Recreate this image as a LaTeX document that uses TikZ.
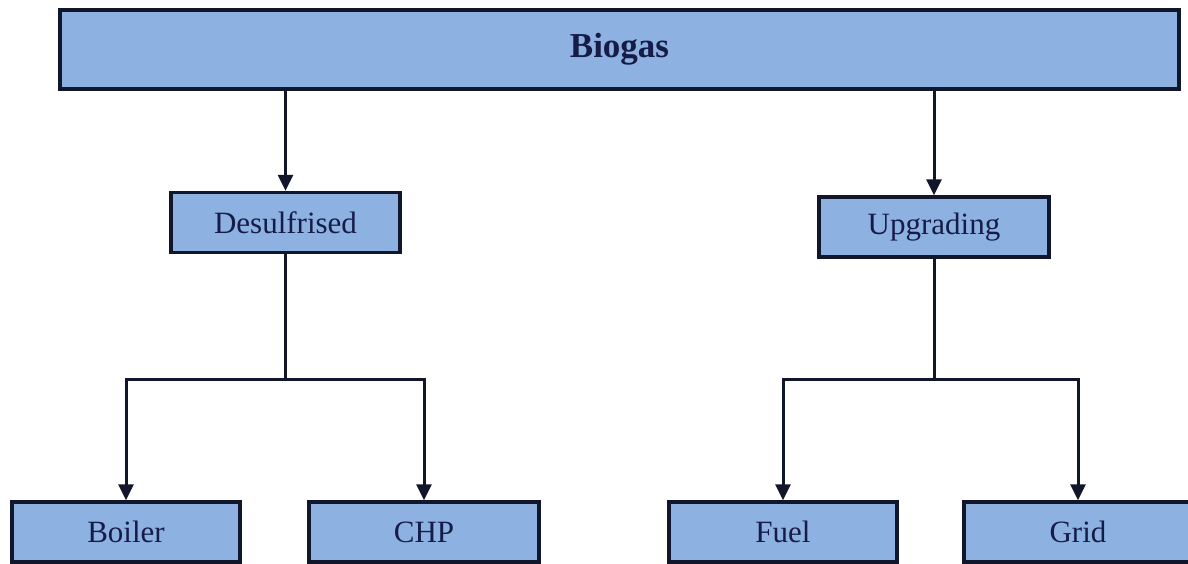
\documentclass[tikz,border=0pt]{standalone}
\usepackage{fontspec}
\setmainfont{Liberation Serif}
\usepackage{tikz}
\usetikzlibrary{positioning, arrows.meta}
\definecolor{boxblue}{RGB}{141,177,225}
\definecolor{boxline}{RGB}{18,22,42}
\definecolor{boxtext}{RGB}{22,28,72}
\newcommand\BoxFont{\fontsize{31}{35}\selectfont}

\begin{document}
\begin{tikzpicture}[x=1pt, y=-1pt,
        stage/.style = {draw = boxline, line width = 3.4pt, fill = boxblue, text = boxtext,
                        minimum height = 60pt, inner sep = 0pt, font = \BoxFont},
        link/.style = {draw = boxline, line width = 3pt},
        feed/.style = {link, -{Triangle[width = 15pt, length = 16pt]}}]
                \useasboundingbox (0,0) rectangle (1188,563);

                \node [stage, minimum width = 1119pt, minimum height = 79pt,
                       font = \fontsize{35}{40}\selectfont\bfseries] at (619.5,49.5) (biogas) {Biogas};

                \node [stage, minimum width = 229pt] at (285.5,222.5) (desulf) {Desulfrised};
                \node [stage, minimum width = 230pt] at (934,227) (upgrade) {Upgrading};

                \node [stage, minimum width = 228pt] at (126,532) (boiler) {Boiler};
                \node [stage, minimum width = 230pt] at (424,532) (chp) {CHP};
                \node [stage, minimum width = 228pt] at (783,532) (fuel) {Fuel};
                \node [stage, minimum width = 228pt] at (1078,532) (grid) {Grid};

                \draw [feed] (biogas.south -| desulf.north) -- (desulf);
                \draw [feed] (biogas.south -| upgrade.north) -- (upgrade);

                \path (desulf.south) ++(0,125) coordinate (dsplit);
                \path (upgrade.south) ++(0,121) coordinate (upsplit);

                \draw [link] (desulf) -- (dsplit);
                \draw [feed] (dsplit) -| (boiler);
                \draw [feed] (dsplit) -| (chp);

                \draw [link] (upgrade) -- (upsplit);
                \draw [feed] (upsplit) -| (fuel);
                \draw [feed] (upsplit) -| (grid);
            \end{tikzpicture}
\end{document}
